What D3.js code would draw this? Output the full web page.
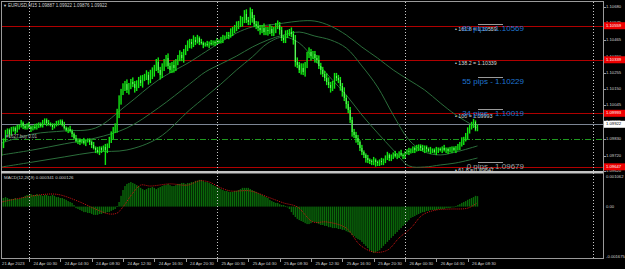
<!DOCTYPE html>
<html>
<head>
<meta charset="utf-8">
<script src="https://cdn.jsdelivr.net/npm/d3@7"></script>
<style>
  body { margin: 0; background: #000; overflow: hidden; }
  svg { display: block; font-family: "Liberation Sans", Arial, sans-serif; }
</style>
</head>
<body>
<svg id="chart"></svg>
<script>
// EURUSD M15 closes, one per bar (bar 0 = 21 Apr 20:30, bar 14 = 24 Apr 00:00)
const firstOpen = 1.09737;
const closes = [
  1.09788,1.09821,1.09866,1.09885,1.09859,1.09885,1.09898,1.09879,1.09898,1.09911,1.09930,1.09911,1.09898,1.09918,1.09905,1.09892,1.09905,1.09898,1.09918,1.09924,1.09911,1.09930,1.09950,1.09930,
  1.09924,
  1.09918,1.09905,1.09918,1.09924,1.09937,1.09943,1.09918,1.09898,1.09885,1.09892,1.09879,1.09859,1.09833,1.09814,1.09821,1.09808,1.09814,1.09801,1.09814,1.09821,1.09808,1.09788,1.09769,1.09756,1.09743,1.09769,1.09756,1.09775,1.09756,1.09788,1.09821,1.09846,1.09885,1.09898,1.09982,1.10079,1.10131,1.10157,1.10182,1.10144,1.10169,1.10195,1.10182,1.10157,1.10176,1.10208,1.10189,1.10221,
  1.10228,
  1.10241,1.10208,1.10234,1.10260,1.10286,1.10324,1.10273,1.10241,1.10286,1.10324,1.10350,1.10299,1.10273,1.10305,1.10286,1.10324,1.10350,1.10370,1.10350,1.10389,1.10415,1.10434,1.10454,1.10441,1.10467,1.10454,1.10480,1.10454,1.10447,1.10434,1.10441,1.10434,1.10447,1.10441,1.10454,1.10447,1.10460,1.10454,1.10467,1.10480,1.10486,1.10499,1.10492,1.10512,1.10531,1.10544,1.10557,1.10570,
  1.10583,
  1.10596,1.10635,1.10596,1.10583,1.10647,1.10609,1.10570,1.10557,1.10544,1.10531,1.10544,1.10518,1.10531,1.10525,1.10538,1.10512,1.10531,1.10557,1.10563,1.10531,1.10480,1.10467,1.10499,1.10512,1.10518,1.10505,1.10467,1.10324,1.10305,1.10273,1.10286,1.10260,1.10305,1.10370,1.10389,1.10363,1.10376,1.10350,1.10337,1.10299,1.10273,1.10247,1.10221,1.10195,1.10176,1.10157,1.10182,1.10234,
  1.10221,
  1.10208,1.10169,1.10131,1.10092,1.10053,1.10014,1.09950,1.09872,1.09853,1.09833,1.09808,1.09769,1.09743,1.09724,1.09704,1.09691,1.09685,1.09678,1.09691,1.09678,1.09672,1.09685,1.09678,1.09691,1.09711,1.09724,1.09704,1.09717,1.09730,1.09717,1.09724,1.09737,1.09724,1.09717,1.09737,1.09750,1.09743,1.09756,1.09769,1.09756,1.09769,1.09782,1.09769,1.09756,1.09775,1.09762,1.09750,
  1.09756,
  1.09756,1.09743,1.09756,1.09762,1.09756,1.09769,1.09756,1.09762,1.09750,1.09756,1.09769,1.09756,1.09762,1.09775,1.09788,1.09808,1.09821,1.09846,1.09872,1.09898,1.09918,1.09937,1.09887,1.09922
];

// Wick extents beyond the body, in pips (0.0001)
const wickUp = [
  2,1,2,1,1,2,1,1,2,1,2,1,1,1,2,1,1,2,1,1,
  1,2,1,1,2,1,1,1,2,1,1,1,2,1,1,2,1,1,2,1,
  1,1,2,1,1,1,1,2,1,2,1,1,1,2,1,2,3,2,3,4,
  3,2,3,2,3,2,2,3,2,3,2,3,2,2,3,2,4,3,2,2,
  3,2,3,2,2,3,2,2,3,2,2,3,2,2,2,3,2,2,3,2,
  2,1,2,1,1,2,1,2,1,1,2,1,2,2,1,2,2,3,2,2,
  3,2,4,2,2,3,2,3,2,2,2,3,2,2,3,2,2,3,2,2,
  2,3,2,2,2,3,2,2,3,2,2,3,2,3,3,2,2,3,2,2,
  2,2,3,2,2,2,3,3,2,2,2,2,2,2,2,3,2,2,2,2,
  2,2,2,1,2,1,1,2,1,1,2,1,1,1,2,1,1,2,1,1,
  1,2,1,1,2,1,1,1,2,1,1,1,2,1,1,2,1,1,1,2,
  1,1,2,1,1,1,2,1,1,2,1,1,2,2,2,3,2,2,3,2,2,2,1,0
];
const wickDn = [
  2,2,1,1,2,1,1,2,1,1,1,2,1,1,1,2,1,1,1,2,
  1,1,1,2,1,1,2,1,1,1,2,1,1,1,2,1,2,1,1,2,
  2,1,1,2,1,2,2,1,2,1,2,2,1,2,2,2,2,2,2,3,
  2,3,2,2,2,3,2,2,3,2,2,2,3,2,2,3,2,2,3,2,
  2,3,2,2,3,2,2,2,3,2,2,2,2,3,2,2,2,3,2,2,
  1,2,1,2,1,1,2,1,1,2,1,1,1,2,1,1,2,1,2,2,
  2,2,2,3,2,2,2,2,3,2,2,2,3,2,2,2,3,2,2,2,
  2,2,3,2,2,2,2,2,2,3,3,2,2,3,2,3,2,2,3,2,
  3,2,2,3,2,2,2,2,3,2,3,2,2,3,3,2,3,2,2,3,
  2,3,2,2,2,2,3,2,2,2,2,3,2,2,2,2,2,2,2,2,
  2,1,2,2,1,2,2,1,2,1,2,2,1,2,2,1,2,2,1,2,
  2,1,2,2,1,2,1,2,2,1,2,1,2,1,2,1,2,1,2,1,1,2,1,1
];

// Notable long wicks
const wickIdx  = [53, 124, 127, 150, 192];
const wickHigh = [null, 1.10660, 1.10667, 1.10499, null];
const wickLow  = [1.09659, null, null, 1.10305, 1.09653];

// Band lines (sampled)
const bandIdx = [0,16,32,48,64,80,96,104,112,120,128,136,144,152,160,168,176,184,192,200,208,216,224,232,243];
const bandA = [1.09801,1.09859,1.09879,1.09898,1.10047,1.10208,1.10324,1.10389,1.10454,1.10512,1.10551,1.10563,1.10576,1.10589,1.10589,1.10557,1.10499,1.10421,1.10350,1.10273,1.10208,1.10144,1.10060,1.09982,1.09898];
const bandB = [1.09724,1.09756,1.09795,1.09833,1.09898,1.10027,1.10182,1.10260,1.10312,1.10363,1.10421,1.10467,1.10499,1.10518,1.10492,1.10467,1.10415,1.10299,1.10163,1.09982,1.09821,1.09743,1.09724,1.09743,1.09782];
const bandC = [1.09646,1.09678,1.09711,1.09743,1.09756,1.09833,1.10014,1.10098,1.10182,1.10273,1.10357,1.10447,1.10486,1.10447,1.10337,1.10221,1.10111,1.09982,1.09866,1.09756,1.09653,1.09646,1.09659,1.09672,1.09704];

// MACD main (histogram), one per bar
const macdHist = [
  0.00028,0.00028,0.00031,0.00028,0.00025,
  0.00025,0.00025,0.00028,0.00025,0.00025,0.00028,0.00031,0.00035,
  0.00038,0.00038,0.00041,0.00038,0.00038,0.00041,0.00038,0.00038,0.00035,0.00038,
  0.00038,0.00035,0.00035,0.00038,0.00035,0.00031,0.00031,0.00028,0.00028,0.00025,
  0.00022,0.00018,0.00015,0.00012,0.00005,
  -0.00005,-0.00008,-0.00011,-0.00014,-0.00018,-0.00018,-0.00021,-0.00021,
  -0.00024,-0.00027,-0.00027,-0.00027,-0.00024,
  -0.00024,-0.00021,-0.00021,-0.00018,-0.00018,-0.00014,-0.00011,-0.00008,
  0.00002,0.00015,
  0.00035,0.00054,0.00067,
  0.00074,0.00077,0.00080,0.00077,0.00074,
  0.00070,0.00067,0.00061,0.00057,0.00054,
  0.00057,0.00061,0.00061,0.00064,0.00061,0.00057,0.00061,0.00064,
  0.00067,0.00070,0.00070,0.00074,0.00070,0.00067,0.00067,
  0.00070,0.00074,0.00074,0.00077,0.00077,0.00074,0.00077,0.00077,0.00080,0.00080,
  0.00084,0.00084,0.00087,0.00087,0.00084,0.00080,0.00080,0.00077,
  0.00074,0.00070,0.00067,0.00064,0.00061,
  0.00057,0.00054,0.00051,0.00051,0.00048,0.00048,0.00048,0.00051,0.00051,0.00054,
  0.00057,0.00061,0.00061,0.00061,0.00061,0.00057,
  0.00054,0.00051,0.00048,0.00044,0.00041,0.00038,0.00035,0.00031,0.00028,0.00022,
  0.00018,0.00015,0.00012,0.00012,0.00008,0.00005,0.00005,0.00002,
  -0.00001,
  -0.00008,-0.00018,-0.00027,-0.00034,-0.00040,-0.00044,
  -0.00047,-0.00050,-0.00054,-0.00057,-0.00057,
  -0.00054,-0.00050,-0.00050,-0.00054,-0.00057,
  -0.00060,-0.00060,-0.00063,-0.00063,-0.00067,-0.00067,-0.00070,-0.00070,
  -0.00070,-0.00073,-0.00073,-0.00076,-0.00076,
  -0.00080,-0.00083,-0.00086,-0.00093,-0.00096,-0.00102,-0.00106,-0.00109,
  -0.00115,-0.00122,-0.00128,-0.00135,-0.00142,-0.00148,-0.00151,
  -0.00148,-0.00145,-0.00142,-0.00135,-0.00128,
  -0.00122,-0.00115,-0.00109,-0.00102,-0.00096,-0.00089,-0.00083,-0.00076,
  -0.00070,-0.00063,-0.00057,-0.00050,-0.00044,
  -0.00037,-0.00034,-0.00031,-0.00027,-0.00024,-0.00021,-0.00018,-0.00018,
  -0.00014,-0.00014,-0.00011,-0.00011,-0.00011,-0.00011,-0.00008,-0.00008,-0.00008,-0.00008,-0.00005,-0.00005,-0.00005,-0.00001,-0.00001,0.00002,0.00005,0.00008,
  0.00012,0.00015,0.00018,0.00022,
  0.00025,0.00028,0.00031,0.00035,0.000341
];

// MACD signal (sampled)
const signalIdx  = [0,16,25,30,40,49,55,59,62,67,71,76,86,95,101,106,112,117,127,136,144,151,159,166,176,183,190,197,203,209,215,222,229,238,243];
const signalVals = [0.00015,0.00035,0.00041,0.00038,0.00015,-0.00011,-0.00024,-0.00021,-0.00001,0.00044,0.00070,0.00067,0.00074,0.00070,0.00084,0.00080,0.00061,0.00051,0.00051,0.00031,0.00012,-0.00001,-0.00050,-0.00050,-0.00070,-0.00125,-0.00148,-0.00142,-0.00102,-0.00070,-0.00027,-0.00011,-0.00008,-0.00005,0.000126];

// Axis ticks
const priceTicks = [1.10680,1.10575,1.10465,1.10360,1.10255,1.10150,1.10045,1.09935,1.09830,1.09720,1.09620];
const macdTicks = [0.001062, 0, -0.001675];
const macdTickLabels = ["0.001062", "0.00", "-0.001675"];
const timeIdx = [0,16,32,48,64,80,96,112,128,144,160,176,192,208,224,240];
const timeLabels = ["21 Apr 2023","24 Apr 00:30","24 Apr 04:30","24 Apr 08:30","24 Apr 12:30","24 Apr 16:30","24 Apr 20:30",
  "25 Apr 00:30","25 Apr 04:30","25 Apr 08:30","25 Apr 12:30","25 Apr 16:30","25 Apr 20:30","26 Apr 00:30","26 Apr 04:30","26 Apr 08:30"];
const dayStarts = [14, 110, 206, 302];

// Fibo levels and pip labels
const fibNames = ["161.8", "138.2", "100", "61.8"];
const fibPrices = [1.10559, 1.10339, 1.09993, 1.09647];
const pipTexts = ["89 pips - 1.10569", "55 pips - 1.10229", "34 pips - 1.10019", "0 pips - 1.09679"];
const pipPrices = [1.10569, 1.10229, 1.10019, 1.09679];
const bidPrice = 1.09922;
const orderPrice = 1.09826;

const W = 625, H = 269;
const svg = d3.select("#chart").attr("width", W).attr("height", H);
svg.append("rect").attr("width", W).attr("height", H).attr("fill", "#000");

const axisX = 603;
const pip = 0.0001;
const x = d3.scaleLinear().domain([14, 206]).range([29, 405]);
const y = d3.scaleLinear().domain([1.10680, 1.09620]).range([7, 171]);
const ym = d3.scaleLinear().domain([0.001062, -0.001675]).range([174, 258]);
const px = i => Math.round(x(i));

const defs = svg.append("defs");
defs.append("clipPath").attr("id", "clipMain")
  .append("rect").attr("x", 2).attr("y", 2).attr("width", axisX - 2).attr("height", 169);
defs.append("clipPath").attr("id", "clipMacd")
  .append("rect").attr("x", 2).attr("y", 174).attr("width", axisX - 2).attr("height", 84);

const main = svg.append("g").attr("clip-path", "url(#clipMain)");
const macd = svg.append("g").attr("clip-path", "url(#clipMacd)");

// period separators
svg.selectAll("line.sep").data(dayStarts).join("line").attr("class", "sep")
  .attr("x1", d => px(d) + 0.5).attr("x2", d => px(d) + 0.5)
  .attr("y1", 2).attr("y2", 258)
  .attr("stroke", "#c8c8c8").attr("stroke-dasharray", "1,2");

// fibo red lines
main.selectAll("line.fib").data(fibPrices).join("line").attr("class", "fib")
  .attr("x1", 2).attr("x2", axisX)
  .attr("y1", d => Math.round(y(d)) + 0.5).attr("y2", d => Math.round(y(d)) + 0.5)
  .attr("stroke", "#b00000");

// order line (dash-dot)
main.append("line")
  .attr("x1", 2).attr("x2", axisX)
  .attr("y1", Math.round(y(orderPrice)) + 0.5).attr("y2", Math.round(y(orderPrice)) + 0.5)
  .attr("stroke", "#1f9a1f").attr("stroke-dasharray", "6,2,1,2");

// bid line
main.append("line")
  .attr("x1", 2).attr("x2", axisX)
  .attr("y1", Math.round(y(bidPrice)) + 0.5).attr("y2", Math.round(y(bidPrice)) + 0.5)
  .attr("stroke", "#7c8594");

// band lines
const bandLine = d3.line()
  .x((d, k) => x(bandIdx[k]))
  .y(d => y(d))
  .curve(d3.curveCatmullRom);
[bandA, bandB, bandC].forEach(arr => {
  main.append("path").attr("d", bandLine(arr))
    .attr("fill", "none").attr("stroke", "#2b6e3b").attr("stroke-width", 1);
});

// candles
const candles = closes.map((c, i) => {
  const o = i === 0 ? firstOpen : closes[i - 1];
  let hi = Math.max(o, c) + wickUp[i] * pip;
  let lo = Math.min(o, c) - wickDn[i] * pip;
  const w = wickIdx.indexOf(i);
  if (w >= 0) {
    if (wickHigh[w] !== null) hi = Math.max(hi, wickHigh[w]);
    if (wickLow[w] !== null) lo = Math.min(lo, wickLow[w]);
  }
  return { i, o, c, hi, lo };
});
main.selectAll("rect.wick").data(candles).join("rect").attr("class", "wick")
  .attr("x", d => x(d.i) - 0.7).attr("width", 1.4)
  .attr("y", d => y(d.hi))
  .attr("height", d => Math.max(1, y(d.lo) - y(d.hi)))
  .attr("fill", "#12e612");
main.selectAll("rect.body").data(candles.filter(d => d.c < d.o)).join("rect").attr("class", "body")
  .attr("x", d => x(d.i) - 0.5).attr("width", 1)
  .attr("y", d => y(d.o))
  .attr("height", d => Math.max(1, y(d.c) - y(d.o)))
  .attr("fill", "#6cf56c");

// fibo labels
main.selectAll("text.fibTxt").data(fibPrices).join("text").attr("class", "fibTxt")
  .attr("x", 455).attr("y", d => y(d) + 3.5)
  .attr("dominant-baseline", "middle")
  .attr("font-size", 5.3).attr("fill", "#d8d8d8")
  .text((d, k) => "\u2022 " + fibNames[k] + " = " + d3.format(".5f")(d));

// pip labels
main.selectAll("line.pipLine").data(pipPrices).join("line").attr("class", "pipLine")
  .attr("x1", 478).attr("x2", 503)
  .attr("y1", d => Math.round(y(d)) + 0.5).attr("y2", d => Math.round(y(d)) + 0.5)
  .attr("stroke", "#9a9a9a");
main.selectAll("text.pipTxt").data(pipPrices).join("text").attr("class", "pipTxt")
  .attr("x", 524).attr("y", d => y(d) + 5)
  .attr("text-anchor", "end").attr("dominant-baseline", "middle")
  .attr("font-size", 8)
  .attr("fill", (d, k) => k === 3 ? "#9aa0a6" : "#1f74d0")
  .text((d, k) => pipTexts[k]);

// order label
main.append("text")
  .attr("x", 6).attr("y", y(orderPrice) - 2.5)
  .attr("dominant-baseline", "middle")
  .attr("font-size", 4.5).attr("fill", "#b0b0b0")
  .text("#1627 buy 0.01");

// title
svg.append("text").attr("x", 3).attr("y", 5.5)
  .attr("dominant-baseline", "middle").attr("font-size", 4).attr("fill", "#d0d0d0")
  .text("\u25BC");
svg.append("text").attr("x", 8).attr("y", 5.5)
  .attr("dominant-baseline", "middle").attr("font-size", 4.5).attr("fill", "#d0d0d0")
  .text("EURUSD,M15  1.09887 1.09922 1.09876 1.09922");

// MACD histogram (soft thin bars)
macd.selectAll("rect.hist").data(macdHist).join("rect").attr("class", "hist")
  .attr("x", (d, i) => x(i) - 0.7).attr("width", 1.4)
  .attr("y", d => Math.min(ym(0), ym(d)))
  .attr("height", d => Math.max(0.8, Math.abs(ym(d) - ym(0))))
  .attr("fill", "#0a6a0a");

// MACD signal
const sigLine = d3.line()
  .x((d, k) => x(signalIdx[k]))
  .y(d => ym(d))
  .curve(d3.curveCatmullRom);
macd.append("path").attr("d", sigLine(signalVals))
  .attr("fill", "none").attr("stroke", "#cc1414").attr("stroke-dasharray", "1,1");

svg.append("text").attr("x", 4).attr("y", 177.5)
  .attr("dominant-baseline", "middle").attr("font-size", 4.4).attr("fill", "#d0d0d0")
  .text("MACD(12,26,9) 0.000341 0.000126");

// frame
svg.append("line").attr("x1", 1).attr("x2", axisX).attr("y1", 1.5).attr("y2", 1.5).attr("stroke", "#9a9a9a");
svg.append("line").attr("x1", 1.5).attr("x2", 1.5).attr("y1", 1).attr("y2", 258).attr("stroke", "#9a9a9a");
svg.append("rect").attr("x", 1).attr("y", 171).attr("width", axisX - 1).attr("height", 2.5).attr("fill", "#c4c4c4");
svg.append("line").attr("x1", 1).attr("x2", axisX).attr("y1", 258.5).attr("y2", 258.5).attr("stroke", "#9a9a9a");
svg.append("line").attr("x1", axisX + 0.5).attr("x2", axisX + 0.5).attr("y1", 1).attr("y2", 259).attr("stroke", "#9a9a9a");

// price axis
const pa = svg.append("g");
pa.selectAll("line").data(priceTicks).join("line")
  .attr("x1", axisX).attr("x2", axisX + 3)
  .attr("y1", d => Math.round(y(d)) + 0.5).attr("y2", d => Math.round(y(d)) + 0.5)
  .attr("stroke", "#9a9a9a");
pa.selectAll("text").data(priceTicks).join("text")
  .attr("x", 606).attr("y", d => y(d))
  .attr("dominant-baseline", "middle")
  .attr("font-size", 4.2).attr("fill", "#d0d0d0")
  .text(d => d3.format(".5f")(d));

// MACD axis
const ma = svg.append("g");
ma.selectAll("text").data(macdTicks).join("text")
  .attr("x", 606).attr("y", (d, k) => k === 0 ? 176.5 : (k === 2 ? 256.5 : ym(d)))
  .attr("dominant-baseline", "middle")
  .attr("font-size", 4.2).attr("fill", "#d0d0d0")
  .text((d, k) => macdTickLabels[k]);

// price labels (fibo red, bid white)
const tags = fibPrices.map(p => ({ p, bg: "#ee0000", fg: "#ffffff" }))
  .concat([{ p: bidPrice, bg: "#ffffff", fg: "#000000" }]);
const tg = svg.append("g").selectAll("g").data(tags).join("g");
tg.append("rect")
  .attr("x", axisX + 1).attr("y", d => y(d.p) - 3.5)
  .attr("width", 21).attr("height", 7)
  .attr("fill", d => d.bg);
tg.append("text")
  .attr("x", 606).attr("y", d => y(d.p))
  .attr("dominant-baseline", "middle")
  .attr("font-size", 4.2).attr("fill", d => d.fg)
  .text(d => d3.format(".5f")(d.p));

// time axis
const ta = svg.append("g");
ta.selectAll("line").data(timeIdx.slice(1)).join("line")
  .attr("x1", d => px(d) - 3.5).attr("x2", d => px(d) - 3.5)
  .attr("y1", 258).attr("y2", 262)
  .attr("stroke", "#9a9a9a");
ta.selectAll("text").data(timeIdx).join("text")
  .attr("x", d => x(d) + 0.5).attr("y", 263.5)
  .attr("dominant-baseline", "middle")
  .attr("font-size", 4.2).attr("fill", "#d0d0d0")
  .text((d, k) => timeLabels[k]);
</script>
</body>
</html>
